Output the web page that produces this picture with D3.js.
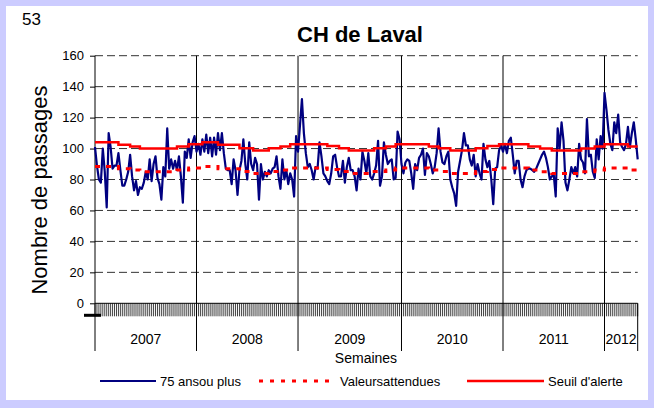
<!DOCTYPE html>
<html>
<head>
<meta charset="utf-8">
<script src="https://cdn.jsdelivr.net/npm/d3@7"></script>
<style>
  body { margin: 0; }
  svg { display: block; font-family: Arial, "Liberation Sans", sans-serif; }
</style>
</head>
<body>
<svg id="chart"></svg>
<script>
// semaines 0..278, une valeur par semaine
const years = ['2007', '2008', '2009', '2010', '2011', '2012'];
const yearStartWeek = [0, 52, 104, 157, 209, 261];
const lastWeek = 278;
const yTicks = [0, 20, 40, 60, 80, 100, 120, 140, 160];

const passages = [
  101, 89, 80, 78, 100, 85, 62, 110, 101, 87, 89, 89, 97, 86, 76, 76, 80, 85, 96, 82,
  73, 79, 70, 75, 74, 78, 85, 80, 93, 79, 90, 95, 81, 77, 67, 88, 82, 113, 87, 93,
  87, 92, 86, 95, 82, 65, 98, 94, 106, 94, 104, 108,
  98, 103, 96, 106, 98, 109, 97, 107, 95, 107, 96, 110, 99, 110, 97, 87, 86, 86,
  77, 93, 86, 70, 86, 92, 106, 90, 80, 104, 90, 86, 94, 90, 67, 90, 80, 85, 82, 86,
  84, 87, 88, 95, 82, 74, 93, 80, 86, 77, 84, 80, 69, 108,
  98, 115, 132, 110, 97, 88, 90, 86, 80, 88, 87, 104, 95, 84, 82, 79, 77, 84, 95, 96,
  88, 82, 82, 92, 78, 88, 94, 86, 86, 82, 73, 87, 80, 98, 92, 84, 97, 82, 80, 84,
  89, 105, 76, 82, 104, 96, 90, 92, 93, 80, 81, 111, 106,
  90, 84, 91, 93, 92, 84, 74, 90, 86, 94, 96, 100, 83, 97, 95, 90, 84, 88, 97, 113,
  98, 91, 90, 95, 98, 80, 75, 71, 63, 85, 92, 99, 110, 102, 102, 93, 89, 96, 82, 90,
  84, 80, 103, 93, 88, 92, 80, 64, 87, 88, 99, 102,
  98, 103, 97, 105, 107, 96, 84, 92, 92, 80, 75, 82, 86, 87, 87, 86, 85, 87, 90, 93,
  96, 98, 94, 88, 80, 82, 83, 69, 113, 100, 117, 105, 78, 73, 80, 88, 84, 88, 82, 103,
  93, 91, 84, 119, 95, 96, 85, 81, 106, 93, 108, 100,
  136, 125, 112, 103, 99, 117, 110, 122, 104, 101, 99, 103, 114, 101, 110, 117, 106, 93
];

// seuil d'alerte et valeurs attendues : paliers (semaine de début, valeur)
const stepWeeks = [0, 12, 18, 23, 42, 48, 55, 63, 74, 81, 89, 95, 100, 119, 125, 130, 143,
  149, 154, 171, 176, 182, 195, 201, 207, 222, 228, 234, 249, 256, 261, 273, 278];
const alertValues = [104, 102.4, 101.3, 100, 101.3, 102.8, 104, 102.4, 100.2, 98.7, 100.2,
  101.3, 102.8, 101.7, 100.2, 98.7, 100.2, 101.3, 102.8, 101.3, 100.2, 98.7, 100.2, 101.7,
  102.8, 101.3, 100, 98.7, 100, 101.3, 102.8, 101.3, 101.3];
const expectedValues = [88.4, 87, 86.1, 85, 86.1, 87.4, 88.4, 87, 85.2, 83.9, 85.2,
  86.1, 87.4, 86.4, 85.2, 83.9, 85.2, 86.1, 87.4, 86.1, 85.2, 83.9, 85.2, 86.4,
  87.4, 86.1, 85, 83.9, 85, 86.1, 87.4, 86.1, 86.1];

const width = 654;
const height = 408;
const plot = { left: 95, right: 637.7, top: 55.7, bottom: 303.3 };

const svg = d3.select('#chart').attr('width', width).attr('height', height);

// fond
svg.append('rect').attr('width', width).attr('height', height).attr('fill', '#ccccff');
svg.append('rect').attr('x', 6).attr('y', 6).attr('width', 642).attr('height', 394).attr('fill', '#fff');

const x = d3.scaleLinear().domain([0, lastWeek]).range([plot.left, plot.right]);
const y = d3.scaleLinear().domain([0, 160]).range([plot.bottom, plot.top]);

// grille horizontale
svg.append('g')
  .selectAll('line')
  .data(yTicks.slice(1))
  .join('line')
  .attr('x1', plot.left).attr('x2', plot.right)
  .attr('y1', d => y(d)).attr('y2', d => y(d))
  .attr('stroke', '#333').attr('stroke-dasharray', '8,4');

// axe Y
const yAxis = d3.axisLeft(y).tickValues(yTicks).tickSize(5).tickPadding(6);
const gy = svg.append('g').attr('transform', `translate(${plot.left},0)`).call(yAxis);
gy.select('.domain').remove();
gy.selectAll('text').attr('font-size', 13).attr('font-family', 'Arial, "Liberation Sans", sans-serif').attr('fill', '#000');
gy.selectAll('line').attr('stroke', '#000');

// graduations des semaines
svg.append('g')
  .selectAll('line')
  .data(d3.range(0, lastWeek + 1))
  .join('line')
  .attr('x1', d => x(d)).attr('x2', d => x(d))
  .attr('y1', plot.bottom).attr('y2', plot.bottom + 13)
  .attr('stroke', '#444').attr('stroke-width', 1);

svg.append('line')
  .attr('x1', plot.left).attr('x2', plot.right)
  .attr('y1', plot.bottom).attr('y2', plot.bottom)
  .attr('stroke', '#000');

svg.append('line')
  .attr('x1', 84).attr('x2', 101)
  .attr('y1', plot.bottom + 12).attr('y2', plot.bottom + 12)
  .attr('stroke', '#000').attr('stroke-width', 3);

// séparateurs d'années
svg.append('g')
  .selectAll('line')
  .data(yearStartWeek)
  .join('line')
  .attr('x1', d => x(d)).attr('x2', d => x(d))
  .attr('y1', plot.top).attr('y2', 351)
  .attr('stroke', '#000');

svg.append('line')
  .attr('x1', x(lastWeek)).attr('x2', x(lastWeek))
  .attr('y1', plot.bottom).attr('y2', 351)
  .attr('stroke', '#000');

const yearEnds = yearStartWeek.slice(1).concat([lastWeek]);
svg.append('g')
  .selectAll('text')
  .data(years)
  .join('text')
  .attr('x', (d, i) => (x(yearStartWeek[i]) + x(yearEnds[i])) / 2)
  .attr('y', 344)
  .attr('text-anchor', 'middle')
  .attr('font-size', 14)
  .text(d => d);

svg.append('text')
  .attr('x', 366).attr('y', 363)
  .attr('text-anchor', 'middle')
  .attr('font-size', 14)
  .text('Semaines');

svg.append('text')
  .attr('transform', 'translate(47,190) rotate(-90)')
  .attr('text-anchor', 'middle')
  .attr('font-size', 22)
  .text('Nombre de passages');

svg.append('text')
  .attr('x', 360).attr('y', 42)
  .attr('text-anchor', 'middle')
  .attr('font-size', 22)
  .attr('font-weight', 'bold')
  .text('CH de Laval');

svg.append('text')
  .attr('x', 22).attr('y', 25)
  .attr('font-size', 17)
  .text('53');

// séries
const line = d3.line().x((d, i) => x(i)).y(d => y(d));
svg.append('path')
  .datum(passages)
  .attr('fill', 'none')
  .attr('stroke', '#000080')
  .attr('stroke-width', 2.2)
  .attr('stroke-linejoin', 'round')
  .attr('d', line);

const stepLine = d3.line()
  .x((d, i) => x(stepWeeks[i]))
  .y(d => y(d))
  .curve(d3.curveStepAfter);

svg.append('path')
  .datum(expectedValues)
  .attr('fill', 'none')
  .attr('stroke', '#ff0000')
  .attr('stroke-width', 3)
  .attr('stroke-dasharray', '5,6')
  .attr('d', stepLine);

svg.append('path')
  .datum(alertValues)
  .attr('fill', 'none')
  .attr('stroke', '#ff0000')
  .attr('stroke-width', 2.5)
  .attr('d', stepLine);

// légende
const legendItems = [
  { label: '75 ansou plus', x1: 100, x2: 156, color: '#000080', dash: null, w: 2.2 },
  { label: 'Valeursattendues', x1: 259, x2: 336, color: '#ff0000', dash: '4,7', w: 3 },
  { label: "Seuil d'alerte", x1: 467, x2: 544, color: '#ff0000', dash: null, w: 2.5 }
];
const legend = svg.append('g');
legendItems.forEach(item => {
  legend.append('line')
    .attr('x1', item.x1).attr('x2', item.x2)
    .attr('y1', 381).attr('y2', 381)
    .attr('stroke', item.color)
    .attr('stroke-width', item.w)
    .attr('stroke-dasharray', item.dash);
  legend.append('text')
    .attr('x', item.x2 + 4).attr('y', 386)
    .attr('font-size', 13)
    .text(item.label);
});
</script>
</body>
</html>
